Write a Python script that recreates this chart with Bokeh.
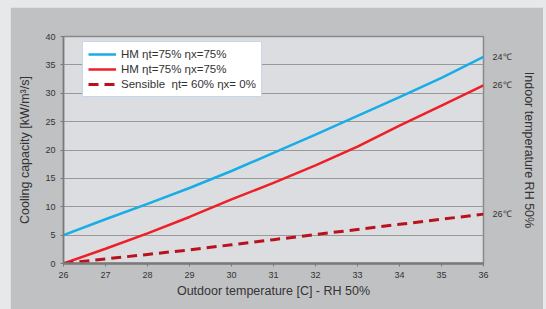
import math
from bokeh.plotting import figure
from bokeh.layouts import column
from bokeh.models import (LinearAxis, FixedTicker, Legend, LegendItem, Range1d)
from bokeh.embed import file_html
from bokeh.resources import INLINE

# ---- data ----
outdoor_temp = [26, 27, 28, 29, 30, 31, 32, 33, 34, 35, 36]
hm_24 = [5.0, 7.8, 10.5, 13.3, 16.3, 19.5, 22.7, 26.0, 29.3, 32.7, 36.4]
hm_26 = [0.0, 2.6, 5.3, 8.2, 11.3, 14.2, 17.3, 20.6, 24.3, 27.8, 31.4]
sensible_26 = [0.0, 0.8, 1.6, 2.4, 3.3, 4.2, 5.1, 6.0, 6.9, 7.8, 8.7]
series_labels = ["HM ηt=75% ηx=75%", "HM ηt=75% ηx=75%", "Sensible  ηt= 60% ηx= 0%"]
indoor_labels = ["24℃", "26℃", "26℃"]
y_ticks = [0, 5, 10, 15, 20, 25, 30, 35, 40]

FONT = "Liberation Sans"
TXT = "#333333"

fig = figure(width=533, height=302, x_range=Range1d(26, 36), y_range=Range1d(0, 40),
             output_backend="svg", toolbar_location=None,
             min_border_left=53, min_border_right=60, min_border_top=29, min_border_bottom=46)
fig.margin = (7, 3, 0, 10)
fig.background_fill_color = "#dcdde0"
fig.border_fill_color = "#c0c1c3"
fig.outline_line_color = "#8a8a8a"
fig.outline_line_width = 1.5

fig.xgrid.grid_line_color = None
fig.ygrid.grid_line_color = "#999999"
fig.ygrid.grid_line_width = 1
fig.ygrid.ticker = FixedTicker(ticks=y_ticks)

# axes
fig.xaxis.ticker = FixedTicker(ticks=outdoor_temp)
fig.yaxis.ticker = FixedTicker(ticks=y_ticks)
for ax in (fig.xaxis[0], fig.yaxis[0]):
    ax.axis_line_color = "#7a7a7a"
    ax.major_tick_line_color = "#7a7a7a"
    ax.minor_tick_line_color = None
    ax.major_tick_in = 0
    ax.major_tick_out = 3
    ax.major_label_text_font = FONT
    ax.major_label_text_font_size = "9px"
    ax.major_label_text_color = TXT
    ax.axis_label_text_font = FONT
    ax.axis_label_text_font_size = "12.5px"
    ax.axis_label_text_font_style = "normal"
    ax.axis_label_text_color = TXT
fig.xaxis.axis_line_width = 2.5
fig.yaxis.axis_line_width = 1.5
fig.xaxis.axis_label = "Outdoor temperature [C] - RH 50%"
fig.yaxis.axis_label = "Cooling capacity [kW/m³/s]"
fig.xaxis.major_label_standoff = 5
fig.xaxis.axis_label_standoff = 3
fig.yaxis.major_label_standoff = 5
fig.yaxis.axis_label_standoff = 10

# right axis with end labels
end_vals = [hm_24[-1], hm_26[-1], sensible_26[-1]]
right = LinearAxis(ticker=FixedTicker(ticks=end_vals),
                   major_label_overrides={v: t for v, t in zip(end_vals, indoor_labels)},
                   axis_label="Indoor temperature RH 50%")
right.axis_line_color = None
right.major_tick_line_color = None
right.minor_tick_line_color = None
right.major_label_standoff = 3
right.major_label_text_font = FONT
right.major_label_text_font_size = "9px"
right.major_label_text_color = TXT
right.axis_label_text_font = FONT
right.axis_label_text_font_size = "12.5px"
right.axis_label_text_font_style = "normal"
right.axis_label_text_color = TXT
right.axis_label_standoff = 7
right.axis_label_orientation = "vertical"
fig.add_layout(right, "right")

# lines
r1 = fig.line(outdoor_temp, hm_24, line_color="#17ade6", line_width=2.5)
r2 = fig.line(outdoor_temp, hm_26, line_color="#ee1f26", line_width=2.5)
r3 = fig.line(outdoor_temp, sensible_26, line_color="#b8121c", line_width=3, line_dash="10 6")

legend = Legend(items=[LegendItem(label=series_labels[0], renderers=[r1]),
                       LegendItem(label=series_labels[1], renderers=[r2]),
                       LegendItem(label=series_labels[2], renderers=[r3])],
                location=(19, 166))
legend.background_fill_color = "white"
legend.background_fill_alpha = 1
legend.border_line_color = "#8fb0d6"
legend.border_line_width = 1.5
legend.label_text_font = FONT
legend.label_text_font_size = "11.5px"
legend.label_text_color = TXT
legend.glyph_width = 28
legend.glyph_height = 14
legend.label_height = 14
legend.spacing = 1
legend.padding = 5
legend.margin = 0
legend.label_standoff = 5
fig.add_layout(legend, "center")

p = column(fig, width=546, height=309, styles={"background-color": "#e6e8e9"})

open("out.html", "w").write(file_html(p, INLINE))
